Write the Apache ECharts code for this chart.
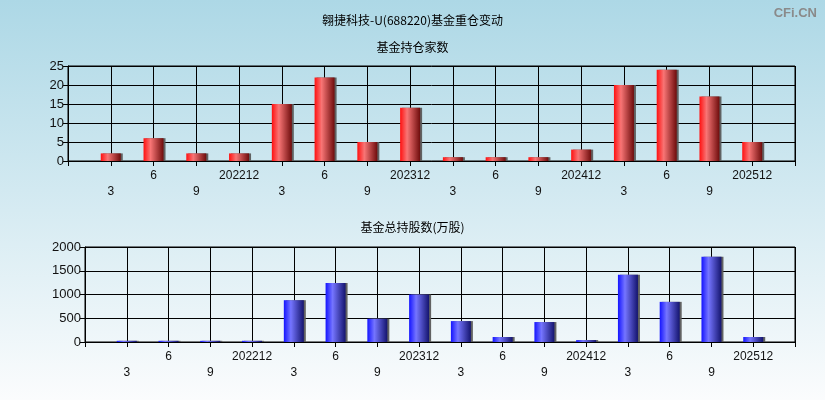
<!DOCTYPE html>
<html>
<head>
<meta charset="utf-8">
<script src="https://cdn.jsdelivr.net/npm/echarts@6/dist/echarts.min.js"></script>
<style>html,body{margin:0;padding:0;}#c{width:825px;height:400px;}</style>
</head>
<body>
<div id="c"></div>
<script>
// Data
var periodLabels = ['3','6','9','202212','3','6','9','202312','3','6','9','202412','3','6','9','202512'];
var fundCounts = [2, 6, 2, 2, 15, 22, 5, 14, 1, 1, 1, 3, 20, 24, 17, 5];
var fundShares = [25, 25, 25, 25, 880, 1240, 490, 1000, 440, 105, 420, 40, 1415, 845, 1795, 105];
var mainTitle = '翱捷科技-U(688220)基金重仓变动';
var topTitle = '基金持仓家数';
var bottomTitle = '基金总持股数(万股)';

// categories with an empty slot at each end
var cats = [''].concat(periodLabels).concat(['']);
function pad(arr){ return [null].concat(arr).concat([null]); }

var labelFont = 'Liberation Sans, Arial, sans-serif';
var cjkFont = 'Noto Sans CJK SC, sans-serif';

function xAxisCfg(gi){
  return {
    type:'category', gridIndex:gi, data:cats, boundaryGap:false,
    axisLine:{lineStyle:{color:'#000',width:1}},
    axisTick:{show:true, interval:0, length:5, lineStyle:{color:'#000'}},
    splitLine:{show:true, interval:0, lineStyle:{color:'#000',width:1}},
    axisLabel:{interval:0, margin:7, color:'#111', fontSize:12, fontFamily:labelFont, lineHeight:16,
      formatter:function(v,i){ return (i % 2 === 1) ? '\n' + v : v; }}
  };
}
function yAxisCfg(gi, max, interval){
  return {
    type:'value', gridIndex:gi, min:0, max:max, interval:interval,
    axisLine:{show:true, lineStyle:{color:'#000',width:1}},
    axisTick:{show:true, length:5, lineStyle:{color:'#000'}},
    splitLine:{show:true, lineStyle:{color:'#000',width:1}},
    axisLabel:{color:'#111', fontSize:13, fontFamily:labelFont, margin:4,
      formatter:function(v){ return String(v); }}
  };
}
function grad(c0, c1, c2){
  return {type:'linear', x:0, y:0, x2:1, y2:0,
    colorStops:[{offset:0,color:c0},{offset:0.35,color:c1},{offset:1,color:c2}]};
}

var chart = echarts.init(document.getElementById('c'), null, {renderer:'canvas'});
chart.setOption({
  animation:false,
  backgroundColor:{type:'linear', x:0, y:0, x2:0, y2:1,
    colorStops:[{offset:0,color:'#add8e6'},{offset:1,color:'#fbfcfd'}]},
  title:[
    {text:mainTitle, left:'center', top:9, textStyle:{fontSize:12, fontWeight:'normal', color:'#000', fontFamily:cjkFont}},
    {text:topTitle, left:'center', top:36, textStyle:{fontSize:12, fontWeight:'normal', color:'#000', fontFamily:cjkFont}},
    {text:bottomTitle, left:'center', top:216, textStyle:{fontSize:12, fontWeight:'normal', color:'#000', fontFamily:cjkFont}},
    {text:'CFi.CN', right:3, top:2, textStyle:{fontSize:13, fontWeight:'bold', color:'#8a8a8a', fontFamily:labelFont}}
  ],
  grid:[
    {left:68, right:30, top:66, height:95, show:true, borderColor:'#000', borderWidth:1, backgroundColor:'transparent'},
    {left:85, right:30, top:247, height:95, show:true, borderColor:'#000', borderWidth:1, backgroundColor:'transparent'}
  ],
  xAxis:[xAxisCfg(0), xAxisCfg(1)],
  yAxis:[yAxisCfg(0, 25, 5), yAxisCfg(1, 2000, 500)],
  series:[
    {type:'bar', xAxisIndex:0, yAxisIndex:0, data:pad(fundCounts), barWidth:20,
      itemStyle:{color:grad('#ff1010','#f87575','#6e0c0c'), shadowColor:'rgba(90,90,90,0.95)', shadowOffsetX:2, shadowBlur:0}},
    {type:'bar', xAxisIndex:1, yAxisIndex:1, data:pad(fundShares), barWidth:20,
      itemStyle:{color:grad('#1414ff','#7575ff','#14146e'), shadowColor:'rgba(90,90,90,0.95)', shadowOffsetX:2, shadowBlur:0}}
  ]
});
</script>
</body>
</html>
